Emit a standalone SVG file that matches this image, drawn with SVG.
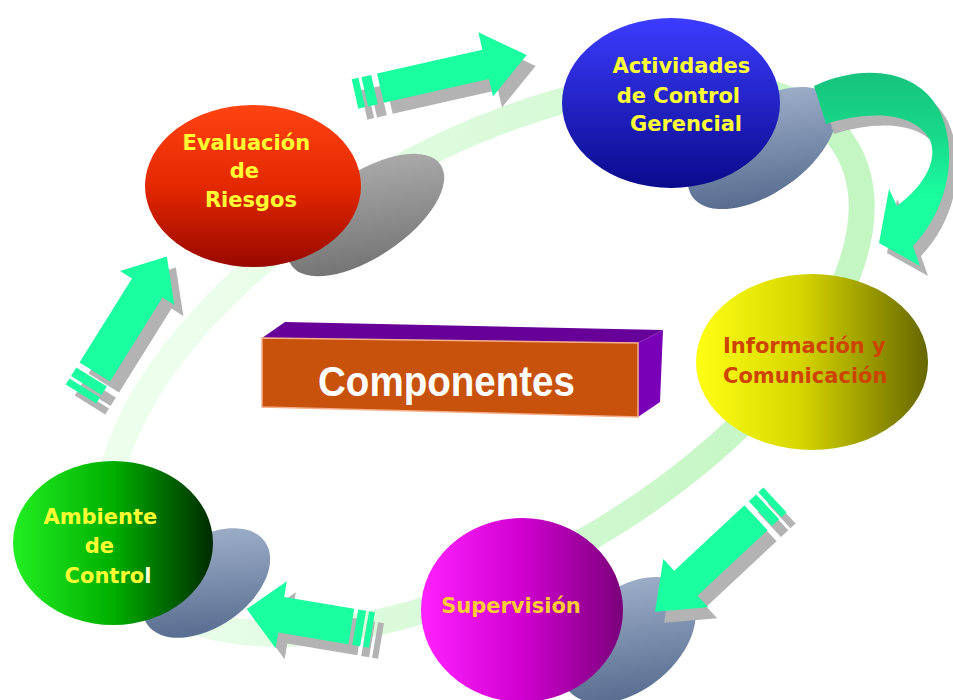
<svg xmlns="http://www.w3.org/2000/svg" xmlns:xlink="http://www.w3.org/1999/xlink" width="953" height="700" viewBox="0 0 953 700">
  <style>
    .label { font-family: "DejaVu Sans", Verdana, sans-serif; font-weight: bold; font-size: 21px; }
    .yellow { fill: #ffff33; }
    .arrow { fill: #1affa0; }
    .arrow-shadow { fill: #b3b3b3; }
    .title { font-family: "Liberation Sans", Arial, sans-serif; font-weight: bold; font-size: 42px; fill: #ffffff; }
  </style>
  <defs>
    <linearGradient id="ringGrad" gradientUnits="userSpaceOnUse" x1="250" y1="180" x2="700" y2="560">
      <stop offset="0" stop-color="#ecfeec"/>
      <stop offset="1" stop-color="#c4f6c4"/>
    </linearGradient>
    <linearGradient id="redGrad" x1="0" y1="0" x2="0" y2="1">
      <stop offset="0" stop-color="#ff4312"/>
      <stop offset="0.5" stop-color="#e42800"/>
      <stop offset="1" stop-color="#980800"/>
    </linearGradient>
    <linearGradient id="blueGrad" x1="0" y1="0" x2="0" y2="1">
      <stop offset="0" stop-color="#3c3cff"/>
      <stop offset="1" stop-color="#0a0a8c"/>
    </linearGradient>
    <linearGradient id="yellowGrad" x1="0" y1="0" x2="1" y2="0">
      <stop offset="0" stop-color="#ffff14"/>
      <stop offset="0.45" stop-color="#d6d600"/>
      <stop offset="1" stop-color="#666600"/>
    </linearGradient>
    <linearGradient id="magentaGrad" x1="0" y1="0" x2="1" y2="0">
      <stop offset="0" stop-color="#ff22ff"/>
      <stop offset="0.5" stop-color="#d000d0"/>
      <stop offset="1" stop-color="#7a007a"/>
    </linearGradient>
    <linearGradient id="greenGrad" x1="0" y1="0" x2="1" y2="0">
      <stop offset="0" stop-color="#22ee22"/>
      <stop offset="0.5" stop-color="#00b000"/>
      <stop offset="1" stop-color="#002a00"/>
    </linearGradient>
    <linearGradient id="greyShadow" x1="0" y1="1" x2="1" y2="0">
      <stop offset="0" stop-color="#6a6a6a"/>
      <stop offset="1" stop-color="#b4b4b4"/>
    </linearGradient>
    <linearGradient id="slateShadow" x1="0" y1="1" x2="1" y2="0">
      <stop offset="0" stop-color="#4a6085"/>
      <stop offset="1" stop-color="#a9b9d2"/>
    </linearGradient>
    <linearGradient id="curveGrad" gradientUnits="userSpaceOnUse" x1="0" y1="70" x2="0" y2="200">
      <stop offset="0" stop-color="#16c27c"/>
      <stop offset="0.5" stop-color="#18d88a"/>
      <stop offset="1" stop-color="#1affa0"/>
    </linearGradient>

    <!-- straight block arrows, drawn along +x from the tail -->
    <g id="shapeA">
      <rect x="0" y="-15" width="7" height="30"/>
      <rect x="10" y="-15" width="10" height="30"/>
      <polygon points="26,-15 134,-15 134,-33 176,0 134,33 134,15 26,15"/>
    </g>
    <g id="shapeB">
      <rect x="0" y="-18" width="7" height="36"/>
      <rect x="10" y="-18" width="10" height="36"/>
      <polygon points="26,-18 125,-18 125,-32 162,0 125,32 125,18 26,18"/>
    </g>
    <g id="shapeD">
      <rect x="0" y="-17" width="7" height="34"/>
      <rect x="10" y="-17" width="10" height="34"/>
      <polygon points="26,-17 122,-17 122,-33 164,0 122,33 122,17 26,17"/>
    </g>
    <g id="shapeE">
      <rect x="0" y="-18" width="6" height="36"/>
      <rect x="9" y="-18" width="8" height="36"/>
      <polygon points="21,-18 92,-18 92,-34 127,0 92,34 92,18 21,18"/>
    </g>
    <path id="shapeC" d="M 814,86 C 860,64 915,68 938,108 C 958,145 952,205 913,246 L 920,266 L 879,243 L 889,189 L 897,206 C 925,185 938,160 930,140 C 915,112 870,110 826,124 Z"/>
  </defs>

  <rect width="953" height="700" fill="#ffffff"/>

  <!-- circulating band behind the cycle -->
  <ellipse id="cycle-band" cx="485" cy="358" rx="418" ry="208" transform="rotate(-30 485 358)" fill="none" stroke="url(#ringGrad)" stroke-width="26"/>

  <!-- cast shadows of the component discs -->
  <g id="disc-shadows">
    <ellipse cx="366" cy="215" rx="90" ry="42" transform="rotate(-34 366 215)" fill="url(#greyShadow)"/>
    <ellipse cx="762" cy="148" rx="85" ry="45" transform="rotate(-35 762 148)" fill="url(#slateShadow)"/>
    <ellipse cx="206" cy="583" rx="72" ry="44" transform="rotate(-35 206 583)" fill="url(#slateShadow)"/>
    <ellipse cx="628" cy="640" rx="78" ry="50" transform="rotate(-40 628 640)" fill="url(#slateShadow)"/>
  </g>

  <!-- connectors -->
  <g id="connectors">
    <g id="arrow-riesgos-actividades">
      <use xlink:href="#shapeA" class="arrow-shadow" transform="translate(9 11) translate(355 94) rotate(-12.8)"/>
      <use xlink:href="#shapeA" class="arrow" transform="translate(355 94) rotate(-12.8)"/>
    </g>
    <g id="arrow-actividades-informacion">
      <use xlink:href="#shapeC" class="arrow-shadow" transform="translate(8 10)"/>
      <use xlink:href="#shapeC" fill="url(#curveGrad)"/>
    </g>
    <g id="arrow-informacion-supervision">
      <use xlink:href="#shapeD" class="arrow-shadow" transform="translate(9 11) translate(775 500) rotate(137)"/>
      <use xlink:href="#shapeD" class="arrow" transform="translate(775 500) rotate(137)"/>
    </g>
    <g id="arrow-supervision-ambiente">
      <use xlink:href="#shapeE" class="arrow-shadow" transform="translate(9 11) translate(372 630) rotate(189.5)"/>
      <use xlink:href="#shapeE" class="arrow" transform="translate(372 630) rotate(189.5)"/>
    </g>
    <g id="arrow-ambiente-riesgos">
      <use xlink:href="#shapeB" class="arrow-shadow" transform="translate(9 11) translate(81 394) rotate(-58)"/>
      <use xlink:href="#shapeB" class="arrow" transform="translate(81 394) rotate(-58)"/>
    </g>
  </g>

  <!-- component discs -->
  <g id="node-riesgos">
    <ellipse cx="253" cy="186" rx="108" ry="81" fill="url(#redGrad)"/>
    <text class="label yellow" text-anchor="middle">
      <tspan x="250" y="150">Evaluación</tspan>
      <tspan x="248" y="178">de</tspan>
      <tspan x="251" y="207">Riesgos</tspan>
    </text>
  </g>

  <g id="node-actividades">
    <ellipse cx="671" cy="103" rx="109" ry="85" fill="url(#blueGrad)"/>
    <text class="label yellow" text-anchor="middle">
      <tspan x="685" y="73">Actividades</tspan>
      <tspan x="682" y="103">de Control</tspan>
      <tspan x="686" y="131">Gerencial</tspan>
    </text>
  </g>

  <g id="node-informacion">
    <ellipse cx="812" cy="362" rx="116" ry="88" fill="url(#yellowGrad)"/>
    <text class="label" fill="#cc4400">
      <tspan x="723" y="353">Información y</tspan>
      <tspan x="723" y="383">Comunicación</tspan>
    </text>
  </g>

  <g id="node-supervision">
    <ellipse cx="522" cy="610" rx="101" ry="92" fill="url(#magentaGrad)"/>
    <text class="label" fill="#ffcc33" x="511" y="613" text-anchor="middle">Supervisión</text>
  </g>

  <g id="node-ambiente">
    <ellipse cx="113" cy="543" rx="100" ry="82" fill="url(#greenGrad)"/>
    <text class="label yellow" text-anchor="middle">
      <tspan x="104" y="524">Ambiente</tspan>
      <tspan x="103" y="553">de</tspan>
      <tspan x="108" y="583">Contro<tspan fill="#ffffd8">l</tspan></tspan>
    </text>
  </g>

  <!-- central 3D title block -->
  <g id="node-componentes">
    <polygon points="262,338 285,322 663,330 638,343" fill="#660099"/>
    <polygon points="638,343 663,330 660,402 638,417" fill="#7a00b8"/>
    <polygon points="262,338 638,343 638,417 262,407" fill="#c8520c" stroke="#f5b08a" stroke-width="1.5"/>
    <text class="title" x="318" y="396" textLength="257" lengthAdjust="spacingAndGlyphs">Componentes</text>
  </g>
</svg>
